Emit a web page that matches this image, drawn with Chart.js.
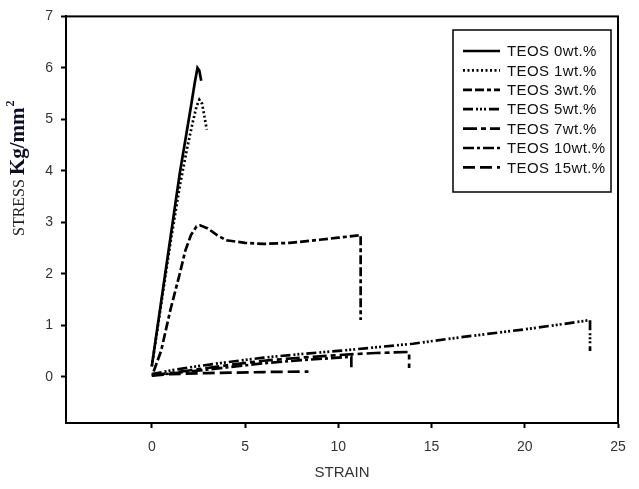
<!DOCTYPE html>
<html>
<head>
<meta charset="utf-8">
<script src="https://cdn.jsdelivr.net/npm/chart.js@4"></script>
<style>
html,body{margin:0;padding:0;background:#fff;}
#wrap{width:639px;height:489px;position:relative;}
</style>
</head>
<body>
<div id="wrap"><canvas id="c" width="639" height="489"></canvas></div>
<script>
// ---- data ----
const seriesLabels = ["TEOS 0wt.%","TEOS 1wt.%","TEOS 3wt.%","TEOS 5wt.%","TEOS 7wt.%","TEOS 10wt.%","TEOS 15wt.%"];

const strain0 = [0, 0.5, 1, 1.5, 1.8, 2.1, 2.3, 2.45, 2.55, 2.65];
const stress0 = [0.2, 1.45, 2.7, 3.95, 4.6, 5.25, 5.7, 6.0, 5.95, 5.75];

const strain1 = [0, 0.5, 1, 1.5, 1.9, 2.2, 2.4, 2.55, 2.7, 2.85, 2.95];
const stress1 = [0.2, 1.4, 2.6, 3.7, 4.45, 4.95, 5.25, 5.38, 5.3, 5.0, 4.8];

const strain3 = [0.1, 0.5, 1, 1.5, 1.8, 2.1, 2.4, 2.6, 3, 3.5, 4, 5, 6, 7.4, 9, 10, 11.2, 11.2];
const stress3 = [0.1, 0.5, 1.3, 2.0, 2.45, 2.75, 2.92, 2.94, 2.88, 2.75, 2.65, 2.6, 2.58, 2.6, 2.66, 2.7, 2.75, 1.1];

const strain5 = [0, 1, 2, 4, 6, 8, 10, 12, 14, 16, 18, 20, 22, 23.5, 23.5];
const stress5 = [0.05, 0.12, 0.18, 0.28, 0.37, 0.44, 0.5, 0.57, 0.64, 0.74, 0.83, 0.92, 1.02, 1.1, 0.5];

const strain7 = [0, 1, 2, 4, 6, 8, 10, 12, 13.8, 13.8];
const stress7 = [0.03, 0.07, 0.12, 0.22, 0.31, 0.37, 0.42, 0.46, 0.48, 0.17];

const strain10 = [0, 1, 2, 4, 6, 8, 10, 10.7, 10.7];
const stress10 = [0.03, 0.06, 0.1, 0.18, 0.26, 0.32, 0.37, 0.39, 0.14];

const strain15 = [0, 1, 3, 6, 8.4];
const stress15 = [0.02, 0.05, 0.07, 0.09, 0.1];

const xTickValues = [0, 5, 10, 15, 20, 25];
const yTickValues = [0, 1, 2, 3, 4, 5, 6, 7];

// ---- build chart ----
const strains = [strain0, strain1, strain3, strain5, strain7, strain10, strain15];
const stresses = [stress0, stress1, stress3, stress5, stress7, stress10, stress15];
const dashes = [[], [2,2.5], [9,3,9,3,4,3], [10,3,2,2,2,2,2,3], [14,4,5,4], [11,3,3,3], [12,5]];

const datasets = seriesLabels.map((lab, i) => ({
  label: lab,
  data: strains[i].map((x, j) => ({x: x, y: stresses[i][j]})),
  borderColor: '#000',
  borderWidth: 2.7,
  borderDash: dashes[i],
  pointRadius: 0,
  showLine: true,
  fill: false,
  tension: 0
}));

const framePlugin = {
  id: 'frame',
  afterDraw(chart) {
    const {ctx, chartArea: a} = chart;
    ctx.save();
    ctx.strokeStyle = '#000';
    ctx.lineWidth = 2;
    ctx.strokeRect(a.left, a.top, a.right - a.left, a.bottom - a.top);

    // legend box
    const bx = 453, by = 30, bw = 158, bh = 162;
    ctx.lineWidth = 1.5;
    ctx.strokeRect(bx, by, bw, bh);
    ctx.font = '15px "Liberation Sans", Arial, sans-serif';
    if ('letterSpacing' in ctx) ctx.letterSpacing = '0.4px';
    ctx.fillStyle = '#111';
    ctx.textBaseline = 'middle';
    ctx.textAlign = 'left';
    chart.data.datasets.forEach((ds, i) => {
      const yy = 51 + i * 19.4;
      ctx.beginPath();
      ctx.setLineDash(ds.borderDash || []);
      ctx.lineWidth = 2.7;
      ctx.moveTo(463, yy);
      ctx.lineTo(500, yy);
      ctx.stroke();
      ctx.setLineDash([]);
      ctx.fillText(ds.label, 507, yy + 1);
    });
    if ('letterSpacing' in ctx) ctx.letterSpacing = '0px';

    // y axis title with mixed fonts
    ctx.translate(24, 236);
    ctx.rotate(-Math.PI / 2);
    ctx.textBaseline = 'alphabetic';
    ctx.fillStyle = '#222';
    ctx.font = '16px "Liberation Serif", "Times New Roman", serif';
    const t1 = 'STRESS ';
    ctx.fillText(t1, 0, 0);
    let off = ctx.measureText(t1).width;
    ctx.fillStyle = '#0d0d2a';
    ctx.font = 'bold 21px "Liberation Serif", "Times New Roman", serif';
    ctx.fillText('Kg/mm', off, 0);
    off += ctx.measureText('Kg/mm').width + 1;
    ctx.font = 'bold 12px "Liberation Serif", "Times New Roman", serif';
    ctx.fillText('2', off, -10);
    ctx.restore();
  }
};

new Chart(document.getElementById('c'), {
  type: 'scatter',
  data: {datasets},
  options: {
    responsive: false,
    animation: false,
    layout: {padding: {left: 0, top: 15, right: 21, bottom: 0}},
    plugins: {legend: {display: false}, tooltip: {enabled: false}},
    scales: {
      x: {
        type: 'linear',
        min: -4.6, max: 25,
        afterBuildTicks: (s) => { s.ticks = xTickValues.map(v => ({value: v})); },
        afterFit: (s) => { s.height = 66; },
        grid: {display: true, drawOnChartArea: false, drawTicks: true, tickLength: 5, tickColor: '#000', tickWidth: 2},
        border: {display: true, color: '#000', width: 2},
        ticks: {color: '#333', padding: 11, font: {family: '"Liberation Sans", Arial, sans-serif', size: 14}, maxRotation: 0},
        title: {display: true, text: 'STRAIN', color: '#333', padding: {top: 0, bottom: 7}, font: {family: '"Liberation Sans", Arial, sans-serif', size: 15}}
      },
      y: {
        type: 'linear',
        min: -0.9, max: 7,
        afterBuildTicks: (s) => { s.ticks = yTickValues.map(v => ({value: v})); },
        afterFit: (s) => { s.width = 66; },
        grid: {display: true, drawOnChartArea: false, drawTicks: true, tickLength: 5, tickColor: '#000', tickWidth: 2},
        border: {display: true, color: '#000', width: 2},
        ticks: {color: '#333', padding: 8, font: {family: '"Liberation Sans", Arial, sans-serif', size: 14}},
        title: {display: false}
      }
    }
  },
  plugins: [framePlugin]
});
</script>
</body>
</html>
